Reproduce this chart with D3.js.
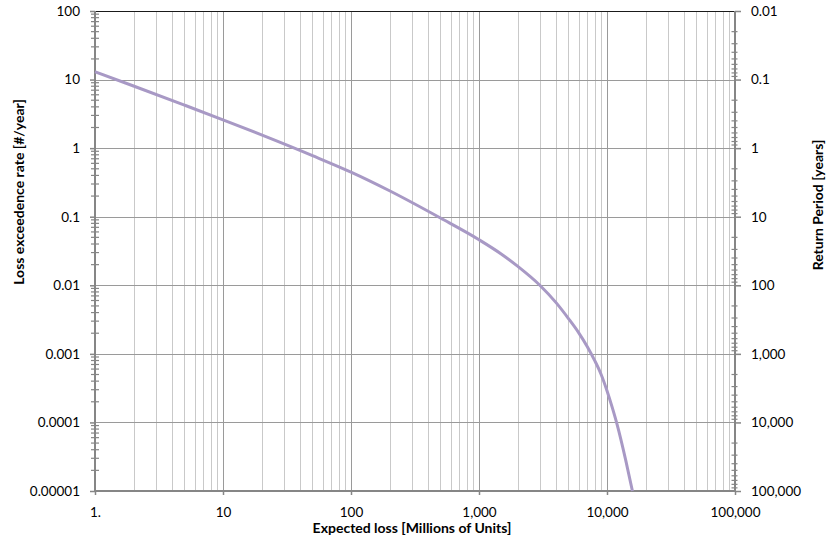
<!DOCTYPE html>
<html>
<head>
<meta charset="utf-8">
<script src="https://cdn.jsdelivr.net/npm/d3@7"></script>
<style>
  html, body { margin: 0; padding: 0; background: #fff; }
  svg text { font-family: Lato, "Open Sans", sans-serif; fill: #000; }
</style>
</head>
<body>
<svg id="chart" width="827" height="550"></svg>
<script>
// ---- data ----
const losses = [1, 2, 5, 10, 20, 50, 100, 200, 500, 1000, 1500, 2000, 3000, 4000, 5000, 6000, 7000, 8000, 9000, 10000, 11000, 12000, 14000, 15800];
const rates  = [13, 8.05, 4.24, 2.59, 1.56, 0.778, 0.447, 0.239, 0.0957, 0.0462, 0.0284, 0.0190, 0.00993, 0.00558, 0.00327, 0.00204, 0.00128, 0.000804, 0.000501, 0.000290, 0.000164, 0.0000929, 0.0000282, 0.00001];

const xTickValues = [1, 10, 100, 1000, 10000, 100000];
const xTickLabels = ["1.", "10", "100", "1,000", "10,000", "100,000"];
const yTickValues = [0.00001, 0.0001, 0.001, 0.01, 0.1, 1, 10, 100];
const yTickLabels = ["0.00001", "0.0001", "0.001", "0.01", "0.1", "1", "10", "100"];
const y2TickValues = [0.01, 0.1, 1, 10, 100, 1000, 10000, 100000];
const y2TickLabels = ["0.01", "0.1", "1", "10", "100", "1,000", "10,000", "100,000"];

const xTitle = "Expected loss [Millions of Units]";
const yTitle = "Loss exceedence rate [#/year]";
const y2Title = "Return Period [years]";

// ---- layout ----
const L = 95, R = 735, T = 11, B = 491;
const svg = d3.select("#chart");

const x = d3.scaleLog().domain([1, 100000]).range([L, R]);
const y = d3.scaleLog().domain([0.00001, 100]).range([B, T]);
const y2 = d3.scaleLog().domain([0.01, 100000]).range([T, B]);

function minors(lo, hi) {
  const out = [];
  for (let d = lo; d < hi; d *= 10) for (let k = 2; k <= 9; k++) out.push(d * k);
  return out;
}
const xMinor = minors(1, 100000);
const yMinor = minors(0.00001, 100);
const y2Minor = minors(0.01, 100000);

const grid = svg.append("g");
grid.selectAll(".vmin").data(xMinor).join("line")
  .attr("x1", d => Math.round(x(d)) + 0.5).attr("x2", d => Math.round(x(d)) + 0.5)
  .attr("y1", T).attr("y2", B)
  .attr("stroke", "#c9c9c9").attr("stroke-width", 1);
grid.selectAll(".vmaj").data(xTickValues.slice(1, -1)).join("line")
  .attr("x1", d => Math.round(x(d)) + 0.5).attr("x2", d => Math.round(x(d)) + 0.5)
  .attr("y1", T).attr("y2", B)
  .attr("stroke", "#9a9a9a").attr("stroke-width", 1);
grid.selectAll(".hmaj").data(yTickValues.slice(1, -1)).join("line")
  .attr("x1", L).attr("x2", R)
  .attr("y1", d => Math.round(y(d)) + 0.5).attr("y2", d => Math.round(y(d)) + 0.5)
  .attr("stroke", "#9a9a9a").attr("stroke-width", 1);

svg.append("line").attr("x1", L).attr("x2", R).attr("y1", T + 0.5).attr("y2", T + 0.5)
  .attr("stroke", "#1a1a1a").attr("stroke-width", 1);

const axisColor = "#868686";

const gL = svg.append("g").attr("transform", `translate(${L},0)`)
  .call(d3.axisLeft(y).tickValues(yTickValues).tickFormat((d, i) => yTickLabels[i]).tickSize(5).tickPadding(10));
const gR = svg.append("g").attr("transform", `translate(${R},0)`)
  .call(d3.axisRight(y2).tickValues(y2TickValues).tickFormat((d, i) => y2TickLabels[i]).tickSize(6).tickPadding(10));
const gB = svg.append("g").attr("transform", `translate(0,${B})`)
  .call(d3.axisBottom(x).tickValues(xTickValues).tickFormat((d, i) => xTickLabels[i]).tickSize(4).tickPadding(12));

[gL, gR, gB].forEach(g => {
  g.select(".domain").remove();
  g.selectAll(".tick line").attr("stroke", axisColor).attr("stroke-width", 1.5);
  g.selectAll(".tick text").style("font-size", "13.5px").attr("fill", "#000");
});

svg.append("g").selectAll("line").data(yMinor).join("line")
  .attr("x1", L - 4).attr("x2", L + 4)
  .attr("y1", d => y(d)).attr("y2", d => y(d))
  .attr("stroke", axisColor).attr("stroke-width", 1.2);
svg.append("g").selectAll("line").data(y2Minor).join("line")
  .attr("x1", R - 3.5).attr("x2", R + 2.5)
  .attr("y1", d => y2(d)).attr("y2", d => y2(d))
  .attr("stroke", axisColor).attr("stroke-width", 1.2);

svg.append("line").attr("x1", L).attr("x2", L).attr("y1", T).attr("y2", B + 1)
  .attr("stroke", axisColor).attr("stroke-width", 2);
svg.append("line").attr("x1", R).attr("x2", R).attr("y1", T).attr("y2", B + 1)
  .attr("stroke", axisColor).attr("stroke-width", 2);
svg.append("line").attr("x1", L).attr("x2", R).attr("y1", B).attr("y2", B)
  .attr("stroke", axisColor).attr("stroke-width", 2);

const pts = losses.map((d, i) => [d, rates[i]]);
svg.append("path").datum(pts)
  .attr("fill", "none")
  .attr("stroke", "#a899c5")
  .attr("stroke-width", 3)
  .attr("stroke-linejoin", "round")
  .attr("d", d3.line().x(d => x(d[0])).y(d => y(d[1])).curve(d3.curveMonotoneX));

svg.append("text").attr("x", 412).attr("y", 533)
  .attr("text-anchor", "middle").style("font-size", "14px").style("font-weight", "bold")
  .text(xTitle);
svg.append("text").attr("transform", "translate(19,192) rotate(-90)")
  .attr("text-anchor", "middle").attr("dy", "0.35em").style("font-size", "14px").style("font-weight", "bold")
  .text(yTitle);
svg.append("text").attr("transform", "translate(818,205) rotate(-90)")
  .attr("text-anchor", "middle").attr("dy", "0.35em").style("font-size", "14px").style("font-weight", "bold")
  .text(y2Title);
</script>
</body>
</html>
